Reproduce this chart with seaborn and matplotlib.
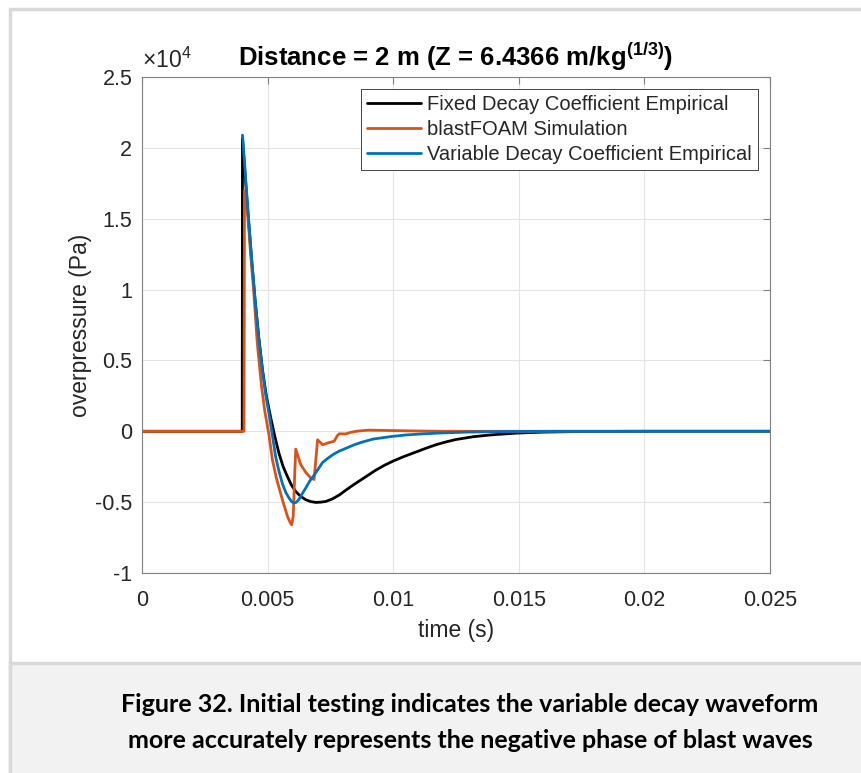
#!/usr/bin/env python3

import numpy as np
import pandas as pd
import seaborn as sns
import matplotlib.pyplot as plt
from matplotlib.patches import Rectangle
from matplotlib.lines import Line2D
from matplotlib.ticker import FuncFormatter

# values, time in ms, overpressure in units of 1e4 Pa
FIXED_T = [0, 3.99, 4.00, 4.10, 4.20, 4.35, 4.50, 4.65, 4.80, 4.95, 5.12, 5.28,
           5.45, 5.62, 5.79, 5.95, 6.12, 6.32, 6.52, 6.72, 6.92, 7.12, 7.32,
           7.58, 7.85, 8.12, 8.4, 8.7, 9.0, 9.3, 9.65, 10.0, 10.4, 10.85, 11.3,
           11.7, 12.1, 12.5, 13.2, 13.92, 14.9, 15.92, 17.0, 18.5, 20.0, 25.0]
FIXED_P = [0, 0, 2.07, 1.82, 1.58, 1.24, 0.93, 0.66, 0.43, 0.25, 0.10, -0.03,
           -0.154, -0.25, -0.32, -0.38, -0.425, -0.46, -0.483, -0.496, -0.502,
           -0.500, -0.495, -0.477, -0.45, -0.415, -0.38, -0.345, -0.31,
           -0.275, -0.24, -0.21, -0.18, -0.15, -0.12, -0.095, -0.075, -0.058,
           -0.038, -0.025, -0.013, -0.006, -0.003, -0.001, 0, 0]

FOAM_T = [0, 4.06, 4.08, 4.20, 4.32, 4.45, 4.59, 4.75, 4.89, 4.95, 5.05, 5.19,
          5.35, 5.52, 5.65, 5.79, 5.90, 5.96, 6.02, 6.08, 6.12, 6.22, 6.32,
          6.52, 6.72, 6.85, 6.92, 6.99, 7.19, 7.39, 7.65, 7.78, 7.85, 8.12,
          8.3, 8.52, 9.0, 10.0, 11.0, 12.0, 25.0]
FOAM_P = [0, 0, 1.70, 1.55, 1.26, 0.98, 0.62, 0.33, 0.14, 0.08, -0.02, -0.20,
          -0.33, -0.44, -0.52, -0.60, -0.645, -0.66, -0.60, -0.30, -0.126,
          -0.18, -0.236, -0.29, -0.33, -0.34, -0.20, -0.06, -0.095, -0.083,
          -0.07, -0.03, -0.018, -0.018, -0.008, 0.0, 0.008, 0.005, 0.002, 0, 0]

VAR_T = [4.00, 4.10, 4.20, 4.35, 4.50, 4.65, 4.80, 4.95, 5.05, 5.20, 5.32,
         5.45, 5.59, 5.72, 5.85, 5.95, 6.05, 6.15, 6.25, 6.38, 6.52, 6.68,
         6.85, 7.0, 7.19, 7.4, 7.59, 7.85, 8.12, 8.45, 8.79, 9.2, 9.92, 10.5,
         11.2, 11.9, 12.9, 13.9, 15.0, 17.0, 25.0]
VAR_P = [2.09, 1.85, 1.60, 1.25, 0.93, 0.65, 0.42, 0.23, 0.13, -0.04, -0.18,
         -0.28, -0.37, -0.43, -0.47, -0.495, -0.507, -0.500, -0.48, -0.44,
         -0.40, -0.35, -0.31, -0.27, -0.22, -0.19, -0.166, -0.14, -0.12,
         -0.095, -0.075, -0.055, -0.037, -0.026, -0.018, -0.012, -0.006,
         -0.003, -0.001, 0, 0]

LABELS = ['Fixed Decay Coefficient Empirical', 'blastFOAM Simulation',
          'Variable Decay Coefficient Empirical']
COLOURS = ['#000000', '#D95319', '#0072BD']
XTICKS = [0, 0.005, 0.01, 0.015, 0.02, 0.025]
YTICKS = [-1, -0.5, 0, 0.5, 1, 1.5, 2, 2.5]

W, H = 862, 773

sns.set_style('white')
plt.rcParams['font.family'] = ['Liberation Sans', 'DejaVu Sans']
plt.rcParams['axes.unicode_minus'] = False
plt.rcParams['mathtext.fontset'] = 'custom'
plt.rcParams['mathtext.rm'] = 'Liberation Sans'
plt.rcParams['mathtext.bf'] = 'Liberation Sans:bold'

frames = []
for t, p, lab in zip([FIXED_T, FOAM_T, VAR_T], [FIXED_P, FOAM_P, VAR_P], LABELS):
    frames.append(pd.DataFrame({'time': np.array(t) / 1000.0,
                                'overpressure': np.array(p) * 1e4,
                                'series': lab}))
df = pd.concat(frames, ignore_index=True)

fig = plt.figure(figsize=(W / 100, H / 100), dpi=100)
fig.patch.set_facecolor('white')

# outer frame and caption panel
fig.patches.append(Rectangle((10 / W, -0.01), 1.0, 1 - 9 / H + 0.01,
                             transform=fig.transFigure, fill=False,
                             edgecolor='#d9d9d9', lw=2.5, zorder=0))
fig.patches.append(Rectangle((10 / W, -0.01), 1.0, (H - 663) / H + 0.01,
                             transform=fig.transFigure, facecolor='#f2f2f2',
                             edgecolor='#d9d9d9', lw=2.5, zorder=0))

ax = fig.add_axes([142 / W, 1 - 573 / H, (770 - 142) / W, (573 - 77) / H])
sns.lineplot(data=df, x='time', y='overpressure', hue='series',
             hue_order=LABELS, palette=COLOURS, estimator=None, sort=False,
             linewidth=2, legend=False, ax=ax)

ax.set_xlim(0, 0.025)
ax.set_ylim(-1e4, 2.5e4)
ax.set_xticks(XTICKS)
ax.set_yticks([v * 1e4 for v in YTICKS])
ax.xaxis.set_major_formatter(FuncFormatter(lambda v, p: f'{v:g}'))
ax.yaxis.set_major_formatter(FuncFormatter(lambda v, p: f'{v / 1e4:g}'))
ax.tick_params(direction='in', length=5, width=0.8, colors='#808080',
               labelcolor='#262626', labelsize=15.5, top=True, right=True)
ax.tick_params(axis='x', pad=12)
ax.tick_params(axis='y', pad=7)
ax.grid(True, color='#e3e3e3', lw=0.8)
for s in ax.spines.values():
    s.set_color('#808080')
    s.set_linewidth(0.8)

ax.set_xlabel('time (s)', fontsize=16.5, color='#262626', labelpad=6)
ax.set_ylabel('overpressure (Pa)', fontsize=16.5, color='#262626', labelpad=2)
ax.set_title(r'Distance = 2 m (Z = 6.4366 m/kg$^{\mathbf{(1/3)}}$)',
             fontsize=18.5, fontweight='bold', color='#000000', pad=8)
ax.text(0.0, 1.008, r'$\times10^{4}$', transform=ax.transAxes, ha='left',
        va='bottom', fontsize=16.5, color='#262626')

handles = [Line2D([], [], color=c, lw=2) for c in COLOURS]
leg = ax.legend(handles, LABELS, loc='upper right', fontsize=14.5,
                frameon=True, fancybox=False, edgecolor='#262626',
                framealpha=1, handlelength=2.7, handletextpad=0.3,
                labelspacing=0.3, borderpad=0.3, borderaxespad=0.6)
leg.get_frame().set_linewidth(0.6)

fig.text(470 / W, 1 - 705 / H,
         'Figure 32. Initial testing indicates the variable decay waveform',
         ha='center', va='center', fontsize=18, fontweight='bold',
         family=['Lato', 'DejaVu Sans'], color='#000000')
fig.text(470 / W, 1 - 741 / H,
         'more accurately represents the negative phase of blast waves',
         ha='center', va='center', fontsize=18, fontweight='bold',
         family=['Lato', 'DejaVu Sans'], color='#000000')

fig.savefig('out.png', dpi=100)
plt.close(fig)
